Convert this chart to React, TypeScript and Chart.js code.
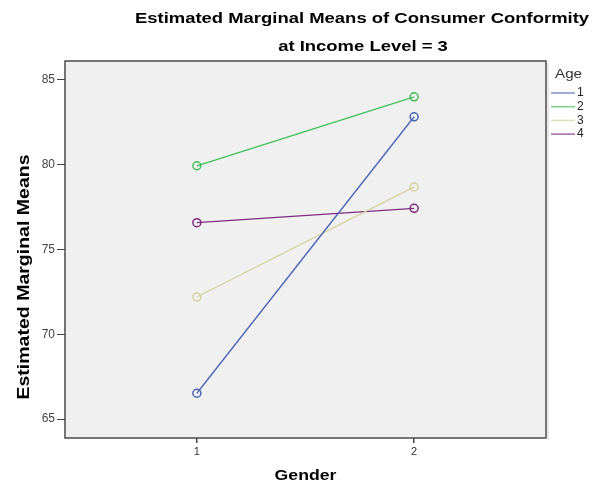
import React, { useEffect, useRef } from "react";
import { Chart, registerables } from "chart.js";

Chart.register(...registerables);

const titleLines = ["Estimated Marginal Means of Consumer Conformity", "at Income Level = 3"];
const xAxisTitle = "Gender";
const yAxisTitle = "Estimated Marginal Means";
const legendTitle = "Age";
const genders = [1, 2];
const ageLabels = ["1", "2", "3", "4"];
const age1 = [66.52, 82.83];
const age2 = [79.94, 84.01];
const age3 = [72.2, 78.69];
const age4 = [76.58, 77.43];
const ageColors = ["#4a63b4", "#3fbf58", "#d6d29e", "#7e2a80"];
const yTicks = [65, 70, 75, 80, 85];
const xTicks = [1, 2];

const FONT = "'Liberation Sans', Arial, sans-serif";

function wideText(ctx: any, text: string, x: number, y: number, sx: number, rot = 0) {
  ctx.save();
  ctx.translate(x, y);
  if (rot) ctx.rotate(rot);
  ctx.scale(sx, 1);
  ctx.fillText(text, 0, 0);
  ctx.restore();
}

const decorPlugin = {
  id: "decor",
  beforeDatasetsDraw(chart: any) {
    const { ctx, chartArea: a } = chart;
    ctx.save();
    ctx.fillStyle = "#f0f0f0";
    ctx.fillRect(a.left, a.top, a.right - a.left, a.bottom - a.top);
    ctx.strokeStyle = "#d0d0d0";
    ctx.lineWidth = 1;
    ctx.beginPath();
    ctx.moveTo(a.right + 2, a.top + 2);
    ctx.lineTo(a.right + 2, a.bottom + 2);
    ctx.stroke();
    ctx.strokeStyle = "#4a4a4a";
    ctx.lineWidth = 1.5;
    ctx.strokeRect(a.left, a.top, a.right - a.left, a.bottom - a.top);
    ctx.restore();
  },
  afterDraw(chart: any) {
    const { ctx, chartArea: a } = chart;
    ctx.save();
    ctx.fillStyle = "#000";
    ctx.textAlign = "center";
    ctx.textBaseline = "middle";
    ctx.font = `bold 15px ${FONT}`;
    wideText(ctx, titleLines[0], 362, 19, 1.23);
    wideText(ctx, titleLines[1], 363, 47, 1.23);
    ctx.font = `bold 14px ${FONT}`;
    wideText(ctx, xAxisTitle, (a.left + a.right) / 2, 476, 1.26);
    ctx.font = `bold 16px ${FONT}`;
    wideText(ctx, yAxisTitle, 25, 277, 1.22, -Math.PI / 2);
    // legend
    ctx.textAlign = "left";
    ctx.fillStyle = "#333";
    ctx.font = `13px ${FONT}`;
    wideText(ctx, legendTitle, a.right + 9, 74, 1.17);
    ctx.font = `12px ${FONT}`;
    chart.data.datasets.forEach((ds: any, i: number) => {
      const y = 93 + i * 13.7;
      ctx.strokeStyle = ds.borderColor;
      ctx.lineWidth = 1.5;
      ctx.globalAlpha = 0.7;
      ctx.beginPath();
      ctx.moveTo(a.right + 5, y);
      ctx.lineTo(a.right + 29, y);
      ctx.stroke();
      ctx.globalAlpha = 1;
      ctx.fillStyle = "#222";
      ctx.fillText(ds.label, a.right + 31, y);
    });
    ctx.restore();
  },
};

export default function App() {
  const ref = useRef<HTMLCanvasElement>(null);
  useEffect(() => {
    document.body.style.margin = "0";
    const series = [age1, age2, age3, age4];
    const chart = new Chart(ref.current!, {
      type: "line",
      data: {
        datasets: series.map((vals, i) => ({
          label: ageLabels[i],
          data: genders.map((g, j) => ({ x: g, y: vals[j] })),
          borderColor: ageColors[i],
          borderWidth: 1.3,
          pointRadius: 4,
          pointBorderWidth: 1.5,
          pointBackgroundColor: "rgba(0,0,0,0)",
          pointBorderColor: ageColors[i],
          fill: false,
          tension: 0,
        })),
      },
      options: {
        responsive: false,
        animation: false,
        layout: { padding: { left: 0, top: 61, right: 55, bottom: 0 } },
        plugins: { legend: { display: false }, title: { display: false }, tooltip: { enabled: false } },
        scales: {
          x: {
            type: "linear",
            min: 0.393,
            max: 2.607,
            afterBuildTicks: (s: any) => {
              s.ticks = xTicks.map((v) => ({ value: v }));
            },
            afterFit: (s: any) => {
              s.height = 48;
            },
            grid: { drawOnChartArea: false, drawTicks: true, tickLength: 5, color: "#444", lineWidth: 1.5 },
            border: { display: false },
            ticks: { color: "#333", font: { family: FONT, size: 11 }, padding: 2, callback: (v: any) => String(v) },
          },
          y: {
            type: "linear",
            min: 63.88,
            max: 86.12,
            afterBuildTicks: (s: any) => {
              s.ticks = yTicks.map((v) => ({ value: v }));
            },
            afterFit: (s: any) => {
              s.width = 65;
            },
            grid: { drawOnChartArea: false, drawTicks: true, tickLength: 8, color: "#444", lineWidth: 1 },
            border: { display: false },
            ticks: { color: "#444", font: { family: FONT, size: 12 }, padding: 2, callback: (v: any) => String(v) },
          },
        },
      },
      plugins: [decorPlugin],
    });
    return () => chart.destroy();
  }, []);
  return <canvas ref={ref} width={601} height={486} style={{ display: "block" }} />;
}
